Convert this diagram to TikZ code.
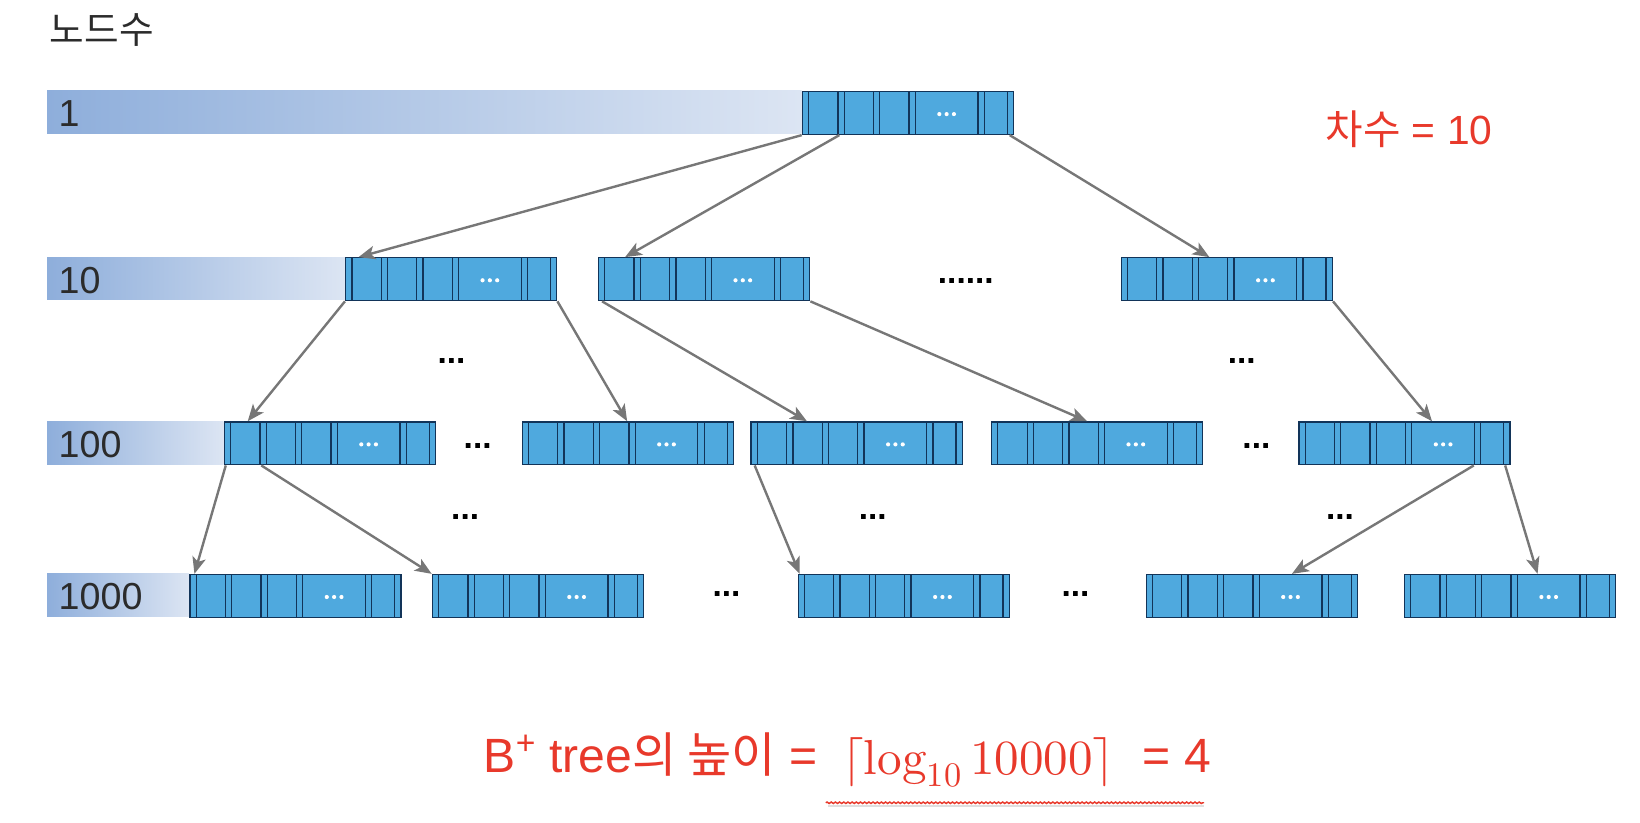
\documentclass[tikz,border=0pt]{standalone}
\usepackage{fontspec}
\usepackage{unicode-math}
\setmainfont{Liberation Sans}
\setmathfont{Latin Modern Math}
\newfontfamily\kr{Noto Sans CJK KR}
\usetikzlibrary{arrows.meta,decorations.pathmorphing}

\definecolor{cellblue}{HTML}{4FA9DE}
\definecolor{cellline}{HTML}{123459}
\definecolor{barleft}{HTML}{8EAEDB}
\definecolor{barright}{HTML}{DCE5F3}
\definecolor{hred}{HTML}{E8392B}
\definecolor{linkgray}{HTML}{777777}
\definecolor{labgray}{HTML}{2B2B2B}

\tikzset{
  bnode/.style={draw=cellline, fill=cellblue, line width=1.3pt, inner sep=0pt,
    minimum width=202pt, minimum height=41pt, anchor=north west,
    path picture={
      \foreach \x in {6,34,40,68,74,102,108,168,174,196}
        \draw[cellline, line width=1.2pt] ([xshift=\x pt]path picture bounding box.south west) -- ([xshift=\x pt]path picture bounding box.north west);
      \foreach \x in {131,138,145}
        \fill[white] ([xshift=\x pt,yshift=-1pt]path picture bounding box.west) circle (2pt);
    }},
  levelbar/.style={left color=barleft, right color=barright},
  lvl/.style={anchor=base west, text=labgray, inner sep=0pt, font=\fontsize{36}{38}\selectfont},
  dots/.style={inner sep=0pt, font=\bfseries\fontsize{32}{34}\selectfont},
  link/.style={draw=linkgray, line width=2.3pt, -{Stealth[length=16pt,width=13pt,inset=4pt]}},
  redtxt/.style={text=hred, inner sep=0pt}
}

\begin{document}
\begin{tikzpicture}[x=1pt,y=-1pt]
  \useasboundingbox (0,0) rectangle (1569,786.6);

  % title
  \node[text=labgray, inner sep=0pt, font=\kr\fontsize{36}{38}\selectfont] (title) at (97.5,28.5) {노드수};

  % level bars
  \shade[levelbar] (45,87) rectangle (767,128);
  \shade[levelbar] (45,246) rectangle (330,287);
  \shade[levelbar] (45,403) rectangle (214,444);
  \shade[levelbar] (45,549) rectangle (181,590);
  \node[lvl] (lab1) at (56,121.5) {1};
  \node[lvl] (lab10) at (56,280.5) {10};
  \node[lvl] (lab100) at (56,437.5) {100};
  \node[lvl] (lab1000) at (56,583.5) {1000};

  % tree nodes
  \node[bnode] (n1) at (767,87) {};

  \node[bnode] (n10a) at (330,246) {};
  \node[bnode] (n10b) at (572,246) {};
  \node[bnode] (n10c) at (1072,246) {};

  \node[bnode] (n100a) at (214,403) {};
  \node[bnode] (n100b) at (499,403) {};
  \node[bnode] (n100c) at (718,403) {};
  \node[bnode] (n100d) at (948,403) {};
  \node[bnode] (n100e) at (1242,403) {};

  \node[bnode] (n1000a) at (181,549) {};
  \node[bnode] (n1000b) at (413,549) {};
  \node[bnode] (n1000c) at (763,549) {};
  \node[bnode] (n1000d) at (1096,549) {};
  \node[bnode] (n1000e) at (1343,549) {};

  % dots
  \node[dots] (dt10) at (924,269) {......};
  \node[dots] (dta) at (432,345) {...};
  \node[dots] (dtb) at (1188,345) {...};
  \node[dots] (dtc) at (457,427) {...};
  \node[dots] (dtd) at (1202,427) {...};
  \node[dots] (dte) at (445,495) {...};
  \node[dots] (dtf) at (835,495) {...};
  \node[dots] (dtg) at (1282,495) {...};
  \node[dots] (dth) at (695,568) {...};
  \node[dots] (dti) at (1029,568) {...};

  % links
  \draw[link] (n1.south west) -- ([xshift=13pt]n10a.north west);
  \draw[link] ([xshift=36pt]n1.south west) -- ([xshift=26pt]n10b.north west);
  \draw[link] ([xshift=199pt]n1.south west) -- ([xshift=85pt]n10c.north west);
  \draw[link] (n10a.south west) -- ([xshift=23pt]n100a.north west);
  \draw[link] (n10a.south east) -- ([xshift=101pt]n100b.north west);
  \draw[link] ([xshift=4pt]n10b.south west) -- ([xshift=54pt]n100c.north west);
  \draw[link] (n10b.south east) -- ([xshift=92pt]n100d.north west);
  \draw[link] (n10c.south east) -- ([xshift=128pt]n100e.north west);
  \draw[link] ([xshift=2pt]n100a.south west) -- ([xshift=5pt]n1000a.north west);
  \draw[link] ([xshift=36pt]n100a.south west) -- (n1000b.north west);
  \draw[link] ([xshift=4pt]n100c.south west) -- ([xshift=2pt]n1000c.north west);
  \draw[link] ([xshift=168pt]n100e.south west) -- ([xshift=140pt]n1000d.north west);
  \draw[link] ([xshift=198pt]n100e.south west) -- ([xshift=128pt]n1000e.north west);

  % order and height
  \node[redtxt, font=\fontsize{39}{41}\selectfont] (deg) at (1348,123.5) {{\kr 차수} = 10};
  \node[redtxt, anchor=base east, font=\fontsize{46}{48}\selectfont] (hgt) at (782,739) {B\textsuperscript{+} tree{\kr 의 높이} =};
  \node[redtxt, anchor=base, font=\fontsize{47}{49}\selectfont] (lg) at (936,741) {$\lceil \symup{log}_{10}\, 10000 \rceil$};
  \node[redtxt, anchor=base west, font=\fontsize{46}{48}\selectfont] (res) at (1093,739) {= 4};
  \draw[gray!25, line width=2pt] (792,771) -- (1152,771);
  \draw[hred, line width=1.4pt, decorate, decoration={snake, amplitude=0.7pt, segment length=4pt}] (790,768) -- (1152,768);
\end{tikzpicture}
\end{document}
